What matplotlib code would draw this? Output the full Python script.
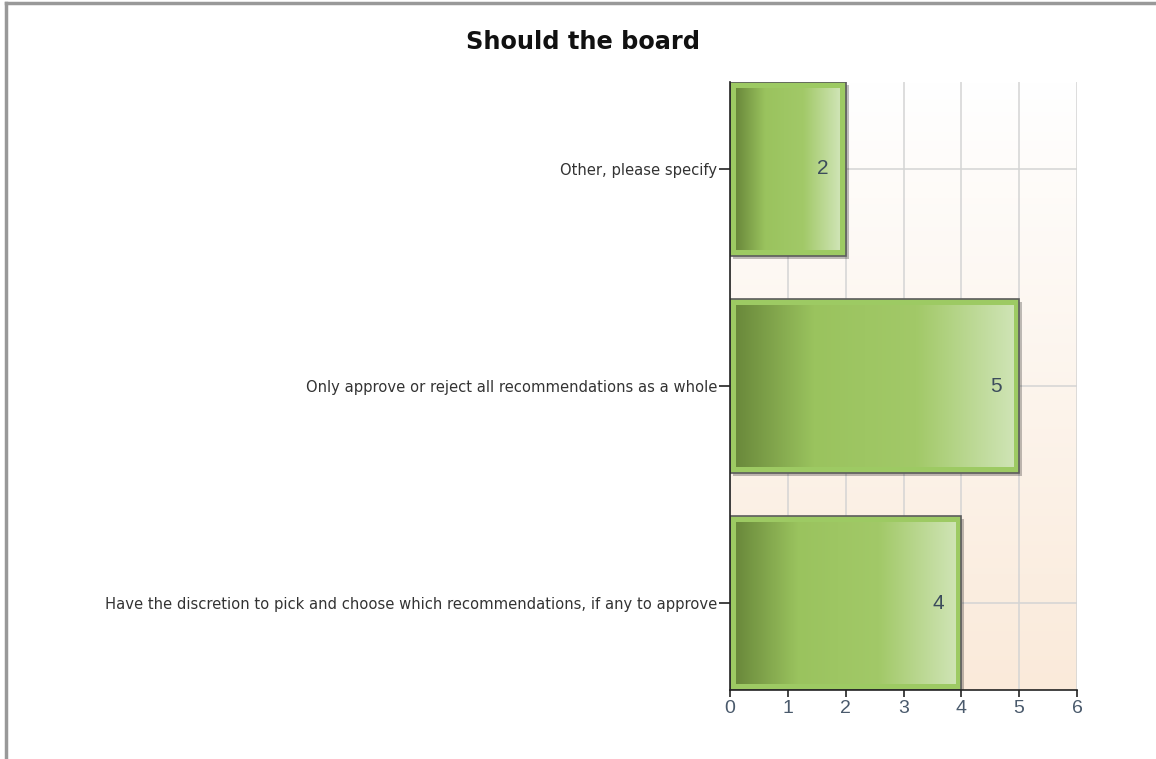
import numpy as np
import matplotlib
matplotlib.use("Agg")
import matplotlib.pyplot as plt
from matplotlib.colors import LinearSegmentedColormap
from matplotlib.patches import Rectangle
from matplotlib.lines import Line2D

plt.rcParams["font.family"] = ["Liberation Sans", "DejaVu Sans"]

# data (bottom to top)
categories = [
    "Have the discretion to pick and choose which recommendations, if any to approve",
    "Only approve or reject all recommendations as a whole",
    "Other, please specify",
]
counts = [4, 5, 2]
title = "Should the board"

W, H = 1156, 759
fig = plt.figure(figsize=(W / 100, H / 100), dpi=100)
fig.patch.set_facecolor("white")

# page border (left + top)
fig.add_artist(Line2D([5.5 / W, 5.5 / W], [0, 1 - 3 / H], color="#999999", lw=2.5))
fig.add_artist(Line2D([5.5 / W, 1], [1 - 3 / H, 1 - 3 / H], color="#999999", lw=2.5))

left, right, top, bottom = 730, 1077, 82, 690
ax = fig.add_axes([left / W, 1 - bottom / H, (right - left) / W, (bottom - top) / H])

xmax = 6
ylo, yhi = -0.4, len(categories) - 1 + 0.4
ax.set_xlim(0, xmax)
ax.set_ylim(ylo, yhi)

# background gradient: white at top, peach at bottom
bg = LinearSegmentedColormap.from_list("bg", ["#ffffff", "#faeada"])
grad = np.linspace(1, 0, 256).reshape(-1, 1)
ax.imshow(grad, cmap=bg, aspect="auto", extent=[0, xmax, ylo, yhi],
          zorder=0, origin="lower")

ax.set_xticks(range(0, xmax + 1))
ax.set_yticks(range(len(categories)))
ax.set_yticklabels(categories, family="DejaVu Sans")
ax.grid(True, color="#d4d4d4", lw=1.1, zorder=1)
ax.set_axisbelow(True)

for s in ["top", "right"]:
    ax.spines[s].set_visible(False)
for s in ["left", "bottom"]:
    ax.spines[s].set_color("#222222")
    ax.spines[s].set_linewidth(1.2)
    ax.spines[s].set_zorder(6)

ax.tick_params(axis="y", length=8, width=1.2, color="#222222",
               labelsize=10.6, labelcolor="#333333", pad=1)
ax.tick_params(axis="x", length=5, width=1.2, color="#222222",
               labelsize=14, labelcolor="#4a5a6c", pad=2)

bar_cmap = LinearSegmentedColormap.from_list(
    "bar", [(0, "#6a893b"), (0.28, "#9ac35e"), (0.65, "#a2c968"), (1.0, "#cfe4b5")])
hgrad = np.linspace(0, 1, 256).reshape(1, -1)

h = 0.8
ux = xmax / (right - left)          # data units per pixel in x
uy = (yhi - ylo) / (bottom - top)   # data units per pixel in y
for i, v in enumerate(counts):
    y0 = i - h / 2
    # shadow
    ax.add_patch(Rectangle((3 * ux, y0 - 3 * uy), v, h, facecolor="#000000",
                           alpha=0.25, edgecolor="none", zorder=2))
    # frame
    ax.add_patch(Rectangle((0, y0), v, h, facecolor="#9dca63",
                           edgecolor="#5c5c5c", lw=1.2, zorder=3))
    # inner gradient
    ax.imshow(hgrad, cmap=bar_cmap, aspect="auto", zorder=4,
              extent=[6 * ux, v - 6 * ux, y0 + 6 * uy, y0 + h - 6 * uy])
    ax.text(v - 0.3, i, str(v), ha="right", va="center", fontsize=15,
            color="#3c4c5c", zorder=5)

ax.set_xlim(0, xmax)
ax.set_ylim(ylo, yhi)

fig.text(583 / W, 1 - 42 / H, title, ha="center", va="center",
         fontsize=17.3, fontweight="bold", color="#111111", family="DejaVu Sans")

fig.savefig("out.png", dpi=100)
